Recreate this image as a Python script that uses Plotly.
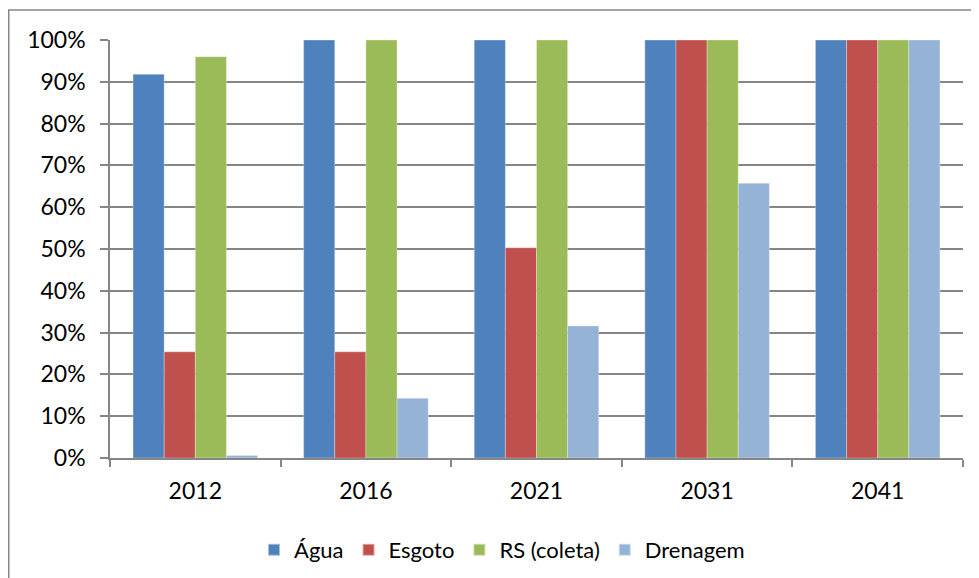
import plotly.graph_objects as go

categories = ["2012", "2016", "2021", "2031", "2041"]
agua = [0.918, 1.0, 1.0, 1.0, 1.0]
esgoto = [0.254, 0.254, 0.503, 1.0, 1.0]
rs_coleta = [0.96, 1.0, 1.0, 1.0, 1.0]
drenagem = [0.006, 0.143, 0.316, 0.657, 1.0]

series_names = ["Água", "Esgoto", "RS (coleta)", "Drenagem"]
series_values = [agua, esgoto, rs_coleta, drenagem]
colors = ["#4F81BD", "#C0504D", "#9BBB59", "#95B3D7"]

y_ticks = [0, 0.1, 0.2, 0.3, 0.4, 0.5, 0.6, 0.7, 0.8, 0.9, 1.0]

# page body has an 8px margin, so the figure is sized/offset to compensate
W, H = 971, 570
L, R, T, B = 102, 16, 32, 120
pw = W - L - R
ph = H - T - B

fig = go.Figure()
for name, vals, col in zip(series_names, series_values, colors):
    fig.add_trace(go.Bar(
        x=categories, y=vals, name=name,
        marker=dict(color=col, line=dict(color="rgba(255,255,255,0.5)", width=0.6)),
    ))

font_family = "Lato, 'Open Sans', sans-serif"

fig.update_layout(
    width=W, height=H,
    margin=dict(l=L, r=R, t=T, b=B, pad=0, autoexpand=False),
    paper_bgcolor="white", plot_bgcolor="white",
    barmode="group", bargap=0.27, bargroupgap=0,
    font=dict(family=font_family, color="#000000"),
    showlegend=True,
    legend=dict(
        orientation="h", x=(494 - L) / pw, xanchor="center",
        y=(ph - (542 - T)) / ph, yanchor="middle",
        font=dict(size=22, family=font_family, color="#000000"),
        itemwidth=30, traceorder="normal", itemsizing="constant",
    ),
    xaxis=dict(
        type="category", showgrid=False, showline=True, linecolor="#868686", linewidth=1.5,
        ticks="outside", tickson="boundaries", ticklen=7, tickcolor="#868686", tickwidth=1.5,
        ticklabelstandoff=12,
        tickfont=dict(size=23, family=font_family, color="#000000"),
        fixedrange=True,
    ),
    yaxis=dict(
        range=[0, 1.0], tickvals=y_ticks, tickformat=".0%",
        showgrid=True, gridcolor="#868686", gridwidth=1.5,
        showline=True, linecolor="#868686", linewidth=1.5,
        ticks="outside", ticklen=8, tickcolor="#868686", tickwidth=1.5,
        ticklabelstandoff=10,
        tickfont=dict(size=23, family=font_family, color="#000000"),
        zeroline=False, fixedrange=True,
    ),
    shapes=[
        dict(type="rect", xref="paper", yref="paper",
             x0=(0.75 - L) / pw, x1=(W + 20 - L) / pw,
             y0=(T + ph - (H + 20)) / ph, y1=(T + ph - 2) / ph,
             line=dict(color="#868686", width=1.5), fillcolor="rgba(0,0,0,0)", layer="below"),
    ],
)

fig.write_html("out.html")
